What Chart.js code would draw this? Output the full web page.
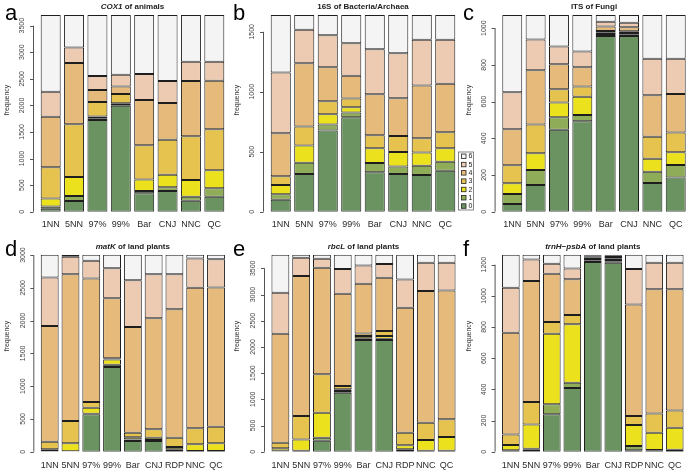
<!DOCTYPE html>
<html>
<head>
<meta charset="utf-8">
<script src="https://cdn.jsdelivr.net/npm/chart.js@4.4.1/dist/chart.umd.min.js"></script>
<style>
  html, body { margin: 0; padding: 0; background: #fff; }
  #wrap { position: relative; width: 689px; height: 472px; overflow: hidden; }
  canvas { position: absolute; }
</style>
</head>
<body>
<div id="wrap">
  <canvas id="pa" width="230" height="236" style="left:0;top:0"></canvas>
  <canvas id="pb" width="229" height="236" style="left:230px;top:0"></canvas>
  <canvas id="pc" width="232" height="236" style="left:457px;top:0"></canvas>
  <canvas id="pd" width="230" height="236" style="left:0;top:236px"></canvas>
  <canvas id="pe" width="229" height="236" style="left:230px;top:236px"></canvas>
  <canvas id="pf" width="232" height="236" style="left:457px;top:236px"></canvas>
</div>
<script>
// categories
const cat8 = ['1NN', '5NN', '97%', '99%', 'Bar', 'CNJ', 'NNC', 'QC'];
const cat9 = ['1NN', '5NN', '97%', '99%', 'Bar', 'CNJ', 'RDP', 'NNC', 'QC'];
const levels = ['0', '1', '2', '3', '4', '5', '6'];
const colors = ['#6b9361', '#8fac58', '#ebe11c', '#e6c24f', '#e6ba7a', '#edcbb2', '#f3f4f3'];

// a: COX1 of animals (one array per level 0..6)
const cox1 = [
  [55, 200, 1724, 1994, 345, 389, 207, 282],
  [45, 95, 32, 31, 44, 69, 75, 157],
  [150, 357, 37, 15, 219, 238, 314, 339],
  [584, 991, 270, 173, 640, 658, 821, 771],
  [953, 1154, 226, 144, 852, 690, 1041, 915],
  [470, 294, 263, 220, 490, 414, 364, 358],
  [1443, 609, 1148, 1123, 1110, 1242, 878, 878]
];
// b: 16S of Bacteria/Archaea
const s16 = [
  [100, 314, 676, 788, 328, 314, 306, 342],
  [45, 95, 50, 39, 78, 62, 78, 75],
  [78, 142, 87, 44, 123, 122, 109, 112],
  [72, 159, 108, 72, 108, 134, 119, 133],
  [359, 528, 284, 190, 343, 314, 440, 404],
  [506, 279, 267, 272, 375, 376, 381, 367],
  [480, 123, 168, 235, 285, 318, 207, 207]
];
// c: ITS of Fungi
const its = [
  [42, 145, 447, 493, 958, 958, 156, 187],
  [54, 82, 68, 34, 10, 9, 62, 68],
  [59, 91, 80, 100, 7, 7, 71, 69],
  [98, 157, 72, 55, 10, 9, 120, 107],
  [196, 296, 137, 105, 25, 22, 226, 211],
  [202, 167, 96, 86, 25, 25, 199, 192],
  [421, 134, 172, 199, 37, 42, 238, 238]
];
// d: matK of land plants
const matk = [
  [5, 2, 570, 1293, 163, 163, 10, 10, 10],
  [5, 3, 10, 35, 25, 15, 26, 2, 2],
  [26, 122, 92, 77, 31, 36, 35, 100, 115],
  [114, 341, 86, 20, 71, 127, 143, 244, 255],
  [1769, 2240, 1884, 916, 1614, 1695, 1959, 2143, 2122],
  [738, 265, 270, 459, 712, 672, 535, 448, 433],
  [348, 32, 93, 205, 389, 297, 297, 58, 68]
];
// e: rbcL of land plants
const rbcl = [
  [8, 15, 210, 1126, 2131, 2131, 13, 13, 13],
  [12, 5, 57, 32, 32, 25, 32, 5, 5],
  [44, 215, 477, 32, 44, 51, 76, 205, 262],
  [108, 445, 732, 63, 51, 95, 242, 330, 337],
  [2080, 2672, 2035, 1762, 948, 1018, 2385, 2513, 2461],
  [782, 349, 172, 470, 349, 261, 540, 540, 528],
  [726, 59, 77, 275, 205, 179, 472, 154, 154]
];
// f: trnH-psbA of land plants
const trnh = [
  [5, 12, 240, 409, 1217, 1213, 9, 9, 11],
  [4, 7, 64, 34, 11, 9, 27, 2, 2],
  [34, 156, 453, 374, 8, 8, 135, 111, 141],
  [68, 144, 75, 60, 8, 8, 58, 123, 111],
  [653, 776, 310, 229, 7, 12, 716, 797, 777],
  [288, 139, 64, 70, 6, 7, 227, 171, 171],
  [212, 30, 58, 88, 7, 7, 92, 51, 51]
];

// y tick labels
const ticksA = [0, 500, 1000, 1500, 2000, 2500, 3000, 3500];
const ticksB = [0, 500, 1000, 1500];
const ticksC = [0, 200, 400, 600, 800, 1000];
const ticksD = [0, 500, 1000, 1500, 2000, 2500, 3000];
const ticksE = [0, 500, 1000, 1500, 2000, 2500, 3000, 3500];
const ticksF = [0, 200, 400, 600, 800, 1000, 1200];

const FONT = '"Liberation Sans", Arial, sans-serif';

function panel(id, opt) {
  const total = opt.series.reduce((s, arr) => s + arr[0], 0);
  const datasets = opt.series.map((arr, i) => ({
    label: levels[i],
    data: arr,
    backgroundColor: colors[i],
    borderColor: '#1e1e1e',
    borderWidth: 1,
    borderSkipped: false,
    barPercentage: opt.barPct,
    categoryPercentage: 1
  }));

  const deco = {
    id: 'deco',
    afterDraw(chart) {
      const ctx = chart.ctx;
      const a = chart.chartArea;
      const y = chart.scales.y, x = chart.scales.x;
      ctx.save();
      // y axis, R style
      const ax = a.left - 5.5;
      const y0 = y.getPixelForValue(opt.ticks[0]);
      const y1 = y.getPixelForValue(opt.ticks[opt.ticks.length - 1]);
      ctx.strokeStyle = '#555';
      ctx.lineWidth = 1;
      ctx.beginPath();
      ctx.moveTo(ax, y0); ctx.lineTo(ax, y1);
      opt.ticks.forEach(t => {
        const py = Math.round(y.getPixelForValue(t)) + 0.5;
        ctx.moveTo(ax, py); ctx.lineTo(ax - 3.5, py);
      });
      ctx.stroke();
      ctx.fillStyle = '#444';
      ctx.font = '7px ' + FONT;
      ctx.textAlign = 'center';
      ctx.textBaseline = 'middle';
      opt.ticks.forEach(t => {
        ctx.save();
        ctx.translate(ax - 11, y.getPixelForValue(t));
        ctx.rotate(-Math.PI / 2);
        ctx.fillText(String(t), 0, 0);
        ctx.restore();
      });
      // y title
      ctx.save();
      ctx.translate(opt.ylabX, 100);
      ctx.rotate(-Math.PI / 2);
      ctx.font = '7px ' + FONT;
      ctx.fillStyle = '#333';
      ctx.fillText('frequency', 0, 0);
      ctx.restore();
      // category labels
      ctx.font = '9px ' + FONT;
      ctx.fillStyle = '#2a2a2a';
      chart.data.labels.forEach((lab, i) => {
        ctx.fillText(lab, x.getPixelForValue(i), a.bottom + opt.labDy);
      });
      // title with italic gene name
      const parts = opt.title;
      const fonts = parts.map(p => (p.i ? 'italic ' : '') + 'bold 8px ' + FONT);
      let w = 0;
      parts.forEach((p, i) => { ctx.font = fonts[i]; w += ctx.measureText(p.t).width; });
      let tx = (a.left + a.right) / 2 - w / 2;
      ctx.textAlign = 'left';
      ctx.fillStyle = '#222';
      parts.forEach((p, i) => {
        ctx.font = fonts[i];
        ctx.fillText(p.t, tx, a.top - 8);
        tx += ctx.measureText(p.t).width;
      });
      // panel letter
      ctx.font = '22px ' + FONT;
      ctx.fillStyle = '#000';
      ctx.textBaseline = 'alphabetic';
      ctx.fillText(opt.letter, opt.letterX, 20);
      // legend box
      if (opt.legend) {
        const lx = 1.5, ly = 152;
        ctx.strokeStyle = '#666';
        ctx.lineWidth = 0.8;
        ctx.strokeRect(lx, ly, 15, 58);
        ctx.font = '7px ' + FONT;
        ctx.textBaseline = 'middle';
        for (let k = 6; k >= 0; k--) {
          const ry = ly + 4 + (6 - k) * 8.3;
          ctx.fillStyle = colors[k];
          ctx.fillRect(lx + 3, ry - 2, 4.5, 4.5);
          ctx.strokeStyle = '#222';
          ctx.strokeRect(lx + 3, ry - 2, 4.5, 4.5);
          ctx.fillStyle = '#222';
          ctx.fillText(levels[k], lx + 10, ry + 0.5);
        }
      }
      ctx.restore();
    }
  };

  return new Chart(document.getElementById(id), {
    type: 'bar',
    data: { labels: opt.labels, datasets: datasets },
    options: {
      responsive: false,
      animation: false,
      events: [],
      layout: { padding: opt.pad },
      plugins: { legend: { display: false }, tooltip: { enabled: false } },
      scales: {
        x: { stacked: true, display: false },
        y: { stacked: true, display: false, min: 0, max: total }
      }
    },
    plugins: [deco]
  });
}

panel('pa', {
  labels: cat8, series: cox1, ticks: ticksA, barPct: 0.855,
  pad: { left: 39, right: 4, top: 15, bottom: 24.3 },
  title: [{ t: 'COX1', i: true }, { t: ' of animals' }],
  letter: 'a', letterX: 5, ylabX: 7, labDy: 13
});
panel('pb', {
  labels: cat8, series: s16, ticks: ticksB, barPct: 0.855,
  pad: { left: 39, right: 2, top: 15, bottom: 24.3 },
  title: [{ t: '16S of Bacteria/Archaea' }],
  letter: 'b', letterX: 3, ylabX: 7, labDy: 13
});
panel('pc', {
  labels: cat8, series: its, ticks: ticksC, barPct: 0.855,
  pad: { left: 43.6, right: 1.6, top: 15, bottom: 24.3 },
  title: [{ t: 'ITS of Fungi' }],
  letter: 'c', letterX: 6, ylabX: 12, labDy: 13, legend: true
});
panel('pd', {
  labels: cat9, series: matk, ticks: ticksD, barPct: 0.86,
  pad: { left: 39.3, right: 3.6, top: 18.7, bottom: 20.3 },
  title: [{ t: 'matK', i: true }, { t: ' of land plants' }],
  letter: 'd', letterX: 5, ylabX: 7, labDy: 14
});
panel('pe', {
  labels: cat9, series: rbcl, ticks: ticksE, barPct: 0.86,
  pad: { left: 40, right: 2, top: 18.7, bottom: 20.3 },
  title: [{ t: 'rbcL', i: true }, { t: ' of land plants' }],
  letter: 'e', letterX: 3, ylabX: 7, labDy: 14
});
panel('pf', {
  labels: cat9, series: trnh, ticks: ticksF, barPct: 0.86,
  pad: { left: 43.6, right: 4, top: 18.7, bottom: 20.3 },
  title: [{ t: 'trnH\u2212psbA', i: true }, { t: ' of land plants' }],
  letter: 'f', letterX: 6, ylabX: 12, labDy: 14
});
</script>
</body>
</html>
